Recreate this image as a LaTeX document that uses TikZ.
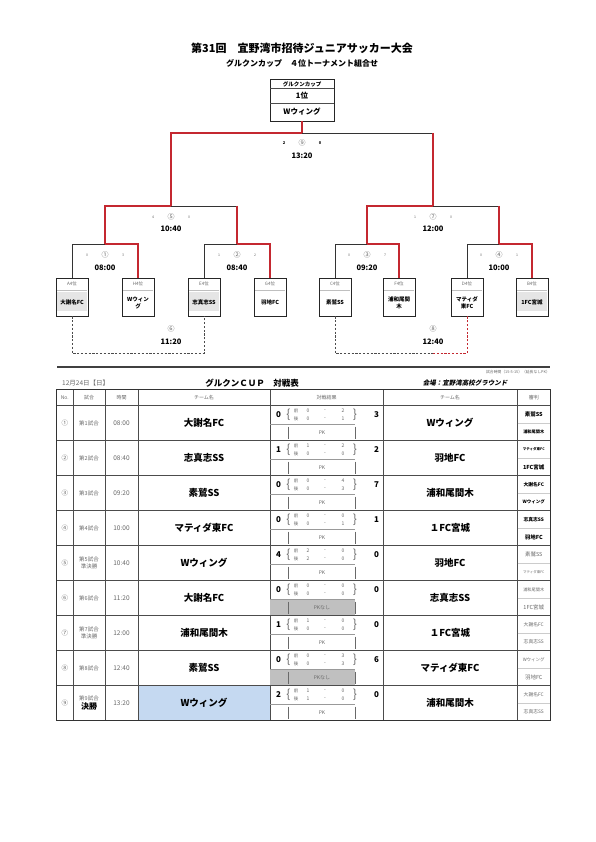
\documentclass[tikz,border=0pt]{standalone}
\usepackage{fontspec}
\setmainfont{Noto Sans CJK JP}
\newfontfamily\jpsl{Noto Sans CJK JP}[FakeSlant=0.2]
\usetikzlibrary{calc}
\definecolor{wred}{RGB}{196,40,48}
\definecolor{txtg}{RGB}{105,105,105}
\definecolor{fillblue}{RGB}{197,217,241}
\definecolor{pkgray}{RGB}{192,192,192}
\newcommand\rsz[1]{\fontsize{#1}{#1}\selectfont}
% row: #1 i, #2 no, #3 game, #4 time, #5 teamL, #6 teamR, #7 ref1, #8 ref2
\newcommand\mrow[8]{%
  \pgfmathsetmacro\myrt{405.5+35*(#1-1)}%
  \pgfmathsetmacro\myrc{\myrt+17.5}%
  \node[tg,fs=6.5] (no#1) at (64.75,\myrc) {#2};
  \node[tg,fs=5.5,align=center] (gm#1) at (89,\myrc) {#3};
  \node[tg,fs=6.5] (tm#1) at (121.5,\myrc) {#4};
  \node[txt,bf=9.5] (tl#1) at (204,\myrc) {#5};
  \node[txt,bf=9.5] (tr#1) at (450,\myrc) {#6};
  \draw[black!20,line width=0.3pt] (517.5,\myrc) -- (550,\myrc);
  \node[tg] (ra#1) at (533.75,\myrt+9) {#7};
  \node[tg] (rb#1) at (533.75,\myrt+26.5) {#8};
}
% score: #1 i, #2 sL, #3 f1, #4 f2, #5 b1, #6 b2, #7 sR, #8 pk-nashi
\newcommand\srow[8]{%
  \pgfmathsetmacro\myrt{405.5+35*(#1-1)}%
  \ifnum#8=1 \fill[pkgray] (270.4,\myrt+19.2) rectangle (354.6,\myrt+34.8);\fi
  \draw[black!40,line width=0.3pt] (270.3,\myrt+19) -- (355,\myrt+19);
  \draw[txtg,line width=0.35pt] (288.5,\myrt+21) -- (288.5,\myrt+33);
  \draw[txtg,line width=0.35pt] (355,\myrt+21) -- (355,\myrt+33);
  \node[txt,bf=8] (sl#1) at (278.5,\myrt+9.5) {#2};
  \node[tg,fs=12] (bo#1) at (288.5,\myrt+9) {\{};
  \node[tg,fs=12] (bc#1) at (355,\myrt+9) {\}};
  \node[tg,fs=4.5] (zf#1) at (296,\myrt+5.5) {前};
  \node[tg,fs=5] (fa#1) at (308,\myrt+5.5) {#3};
  \node[tg,fs=5] (fd#1) at (325,\myrt+5.5) {-};
  \node[tg,fs=5] (fb#1) at (343,\myrt+5.5) {#4};
  \node[tg,fs=4.5] (zb#1) at (296,\myrt+13) {後};
  \node[tg,fs=5] (ba#1) at (308,\myrt+13) {#5};
  \node[tg,fs=5] (bd#1) at (325,\myrt+13) {-};
  \node[tg,fs=5] (bb#1) at (343,\myrt+13) {#6};
  \node[txt,bf=8] (sr#1) at (376.5,\myrt+9.5) {#7};
  \node[tg,fs=5] (pk#1) at (322,\myrt+27) {\ifnum#8=1 PKなし\else PK\fi};
}
\begin{document}
\begin{tikzpicture}[x=1pt,y=-1pt,
  fs/.style={font=\fontsize{#1}{\fpeval{#1*1.25}}\selectfont},
  bf/.style={font=\fontsize{#1}{\fpeval{#1*1.25}}\selectfont\bfseries},
  txt/.style={inner sep=0pt,text=black},
  tg/.style={inner sep=0pt,text=txtg},
  tbox/.style={draw=black!85,line width=0.6pt,minimum width=32pt,minimum height=38pt,inner sep=0pt},
  win/.style={draw=wred,line width=1.2pt},
  lose/.style={draw=black!80,line width=0.9pt},
  dashg/.style={draw=black!70,line width=0.8pt,dash pattern=on 2.2pt off 1.6pt},
  dashr/.style={draw=wred,line width=0.8pt,dash pattern=on 2.2pt off 1.6pt},
  grid/.style={draw=black!70,line width=0.5pt}
]
\useasboundingbox (0,0) rectangle (595,842);
\fill[white] (0,0) rectangle (595,842);

% ---- titles
\node[txt,bf=11] (title) at (302,48) {第31回　宜野湾市招待ジュニアサッカー大会};
\node[txt,bf=8] (sub) at (302,63) {グルクンカップ　４位トーナメント組合せ};

% ---- champion box
\node[draw=black!85,line width=0.7pt,minimum width=64pt,minimum height=42pt,inner sep=0pt] (champ) at (302,100) {};
\draw[black!70,line width=0.4pt] (270,88.5) -- (334,88.5);
\draw[black!70,line width=0.4pt] (270,103) -- (334,103);
\node[txt,bf=5.5] (champa) at (302,84.3) {グルクンカップ};
\node[txt,bf=7.5] (champb) at (302,95.5) {1位};
\node[txt,bf=7.5] (champc) at (302,112) {Wウィング};

% ---- team boxes
\node[tbox] (tA) at (72,297) {};
\node[tbox] (tH) at (138,297) {};
\node[tbox] (tE) at (204,297) {};
\node[tbox] (tG) at (270,297) {};
\node[tbox] (tC) at (335,297) {};
\node[tbox] (tF) at (399,297) {};
\node[tbox] (tD) at (467,297) {};
\node[tbox] (tB) at (532,297) {};
\fill[black!10] (56.6,292) rectangle (87.4,311);
\fill[black!10] (188.6,292) rectangle (219.4,311);
\fill[black!10] (516.6,292) rectangle (547.4,311);
\foreach \bx in {72,138,204,270,335,399,467,532}{
  \draw[black!25,line width=0.3pt] (\bx-15,290.5) -- (\bx+15,290.5);
}
\node[tg,fs=4.5] (lA) at (72,284) {A4位};
\node[tg,fs=4.5] (lH) at (138,284) {H4位};
\node[tg,fs=4.5] (lE) at (204,284) {E4位};
\node[tg,fs=4.5] (lG) at (270,284) {G4位};
\node[tg,fs=4.5] (lC) at (335,284) {C4位};
\node[tg,fs=4.5] (lF) at (399,284) {F4位};
\node[tg,fs=4.5] (lD) at (467,284) {D4位};
\node[tg,fs=4.5] (lB) at (532,284) {B4位};
\node[txt,bf=5.5] (nA) at (72,302) {大謝名FC};
\node[txt,bf=5.5,align=center] (nH) at (138,303) {Wウィン\\グ};
\node[txt,bf=5.5] (nE) at (204,302) {志真志SS};
\node[txt,bf=5.5] (nG) at (270,302) {羽地FC};
\node[txt,bf=5.5] (nC) at (335,302) {素鷲SS};
\node[txt,bf=5.5,align=center] (nF) at (399,303) {浦和尾間\\木};
\node[txt,bf=5.5,align=center] (nD) at (467,303) {マティダ\\東FC};
\node[txt,bf=5.5] (nB) at (532,302) {1FC宮城};

% ---- bracket junctions
\coordinate (m9) at (302,133);
\coordinate (m5) at (171,206);
\coordinate (m7) at (433,206);
\coordinate (m1) at (105,244);
\coordinate (m2) at (237,244);
\coordinate (m3) at (367,244);
\coordinate (m4) at (499,244);
\coordinate (m6) at (171,353);
\coordinate (m8) at (433,353);

\draw[lose] (m1) -| (tA.north);
\draw[lose] (m2) -| (tE.north);
\draw[lose] (m3) -| (tC.north);
\draw[lose] (m4) -| (tD.north);
\draw[lose] (m5) -- (m5 -| m2);
\draw[lose] (m7) -- (m7 -| m4);
\draw[lose] (m9) -- (m9 -| m7);
\draw[win] (m1) -| (tH.north);
\draw[win] (m2) -| (tG.north);
\draw[win] (m3) -| (tF.north);
\draw[win] (m4) -| (tB.north);
\draw[win] (m5) -| (m1);
\draw[win] (m5 -| m2) -- (m2);
\draw[win] (m7) -| (m3);
\draw[win] (m7 -| m4) -- (m4);
\draw[win] (m9) -| (m5);
\draw[win] (m9 -| m7) -- (m7);
\draw[win] (champ.south) -- (m9);
\draw[dashg] (tA.south) |- (m6) -| (tE.south);
\draw[dashg] (tC.south) |- (m8);
\draw[dashr] (m8) -| (tD.south);

% ---- match labels
\node[tg,fs=7] (c1) at (105,255) {①};
\node[txt,bf=7.5] (k1) at (105,268) {08:00};
\node[tg,fs=3.5] (a1) at (87,255) {0};
\node[tg,fs=3.5] (b1) at (123,255) {3};
\node[tg,fs=7] (c2) at (237,255) {②};
\node[txt,bf=7.5] (k2) at (237,268) {08:40};
\node[tg,fs=3.5] (a2) at (219,255) {1};
\node[tg,fs=3.5] (b2) at (255,255) {2};
\node[tg,fs=7] (c3) at (367,255) {③};
\node[txt,bf=7.5] (k3) at (367,268) {09:20};
\node[tg,fs=3.5] (a3) at (349,255) {0};
\node[tg,fs=3.5] (b3) at (385,255) {7};
\node[tg,fs=7] (c4) at (499,255) {④};
\node[txt,bf=7.5] (k4) at (499,268) {10:00};
\node[tg,fs=3.5] (a4) at (481,255) {0};
\node[tg,fs=3.5] (b4) at (517,255) {1};
\node[tg,fs=7] (c5) at (171,217) {⑤};
\node[txt,bf=7.5] (k5) at (171,229) {10:40};
\node[tg,fs=3.5] (a5) at (153,217) {4};
\node[tg,fs=3.5] (b5) at (189,217) {0};
\node[tg,fs=7] (c7) at (433,217) {⑦};
\node[txt,bf=7.5] (k7) at (433,229) {12:00};
\node[tg,fs=3.5] (a7) at (415,217) {1};
\node[tg,fs=3.5] (b7) at (451,217) {0};
\node[tg,fs=7] (c9) at (302,143) {⑨};
\node[txt,bf=7.5] (k9) at (302,156) {13:20};
\node[txt,bf=4] (a9) at (284,143) {2};
\node[txt,bf=4] (b9) at (320,143) {0};
\node[tg,fs=7] (c6) at (171,329) {⑥};
\node[txt,bf=7.5] (k6) at (171,342) {11:20};
\node[tg,fs=7] (c8) at (433,329) {⑧};
\node[txt,bf=7.5] (k8) at (433,342) {12:40};

% ---- table heading
\draw[black!75,line width=1.3pt] (57,367) -- (550,367);
\node[tg,fs=3.8,anchor=east] (note) at (550,372.5) {試合時間（15-5-15）（延長なしPK）};
\node[tg,fs=6.5,anchor=west] (date) at (62,383) {12月24日【日】};
\node[txt,bf=8.5] (cup) at (252,383) {グルクンＣＵＰ　対戦表};
\node[txt,font=\jpsl\fontsize{6.5}{7}\selectfont\bfseries] (venue) at (465,383) {会場：宜野湾高校グラウンド};

% ---- table fills
\fill[fillblue] (138.3,685.8) rectangle (269.7,720.2);

% ---- table grid
\draw[grid] (56.5,405.5) -- (550.5,405.5);
\foreach \k in {1,...,8}{
  \draw[grid] (56.5,405.5+35*\k) -- (550.5,405.5+35*\k);
}
\foreach \vx in {73,105,138,270,383,517}{
  \draw[grid] (\vx,389) -- (\vx,720.5);
}
\draw[black!80,line width=0.8pt] (56.5,389) rectangle (550.5,720.5);

% ---- header
\node[tg,fs=5] (h1) at (64.75,397.3) {No.};
\node[tg,fs=5] (h2) at (89,397.3) {試合};
\node[tg,fs=5] (h3) at (121.5,397.3) {時間};
\node[tg,fs=5] (h4) at (204,397.3) {チーム名};
\node[tg,fs=5] (h5) at (326.5,397.3) {対戦結果};
\node[tg,fs=5] (h6) at (450,397.3) {チーム名};
\node[tg,fs=5] (h7) at (533.75,397.3) {審判};

% ---- rows
\mrow{1}{①}{第1試合}{08:00}{大謝名FC}{Wウィング}{\color{black}\bfseries\rsz{5.5}素鷲SS}{\color{black}\bfseries\rsz{4.2}浦和尾間木}
\mrow{2}{②}{第2試合}{08:40}{志真志SS}{羽地FC}{\color{black}\bfseries\rsz{3.5}マティダ東FC}{\color{black}\bfseries\rsz{5.5}1FC宮城}
\mrow{3}{③}{第3試合}{09:20}{素鷲SS}{浦和尾間木}{\color{black}\bfseries\rsz{4.8}大謝名FC}{\color{black}\bfseries\rsz{4.5}Wウィング}
\mrow{4}{④}{第4試合}{10:00}{マティダ東FC}{１FC宮城}{\color{black}\bfseries\rsz{4.8}志真志SS}{\color{black}\bfseries\rsz{5.5}羽地FC}
\mrow{5}{⑤}{第5試合\\準決勝}{10:40}{Wウィング}{羽地FC}{\rsz{5.5}素鷲SS}{\rsz{3.5}マティダ東FC}
\mrow{6}{⑥}{第6試合}{11:20}{大謝名FC}{志真志SS}{\rsz{4.2}浦和尾間木}{\rsz{5.5}1FC宮城}
\mrow{7}{⑦}{第7試合\\準決勝}{12:00}{浦和尾間木}{１FC宮城}{\rsz{4.8}大謝名FC}{\rsz{4.8}志真志SS}
\mrow{8}{⑧}{第8試合}{12:40}{素鷲SS}{マティダ東FC}{\rsz{4.5}Wウィング}{\rsz{5.5}羽地FC}
\mrow{9}{⑨}{第9試合\\{\color{black}\bfseries\rsz{8}決勝}}{13:20}{Wウィング}{浦和尾間木}{\rsz{4.8}大謝名FC}{\rsz{4.8}志真志SS}

\srow{1}{0}{0}{2}{0}{1}{3}{0}
\srow{2}{1}{1}{2}{0}{0}{2}{0}
\srow{3}{0}{0}{4}{0}{3}{7}{0}
\srow{4}{0}{0}{0}{0}{1}{1}{0}
\srow{5}{4}{2}{0}{2}{0}{0}{0}
\srow{6}{0}{0}{0}{0}{0}{0}{1}
\srow{7}{1}{1}{0}{0}{0}{0}{0}
\srow{8}{0}{0}{3}{0}{3}{6}{1}
\srow{9}{2}{1}{0}{1}{0}{0}{0}
\end{tikzpicture}
\end{document}
